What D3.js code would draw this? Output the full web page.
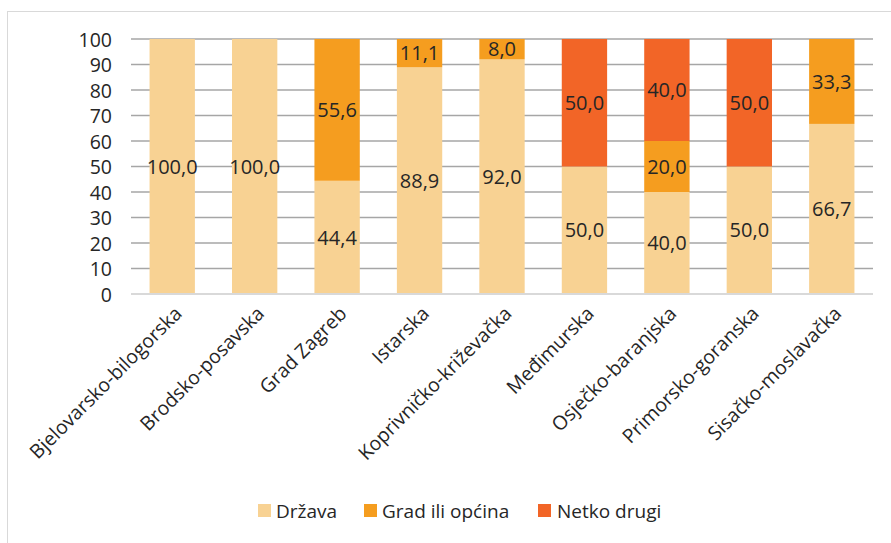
<!DOCTYPE html>
<html>
<head>
<meta charset="utf-8">
<script src="https://cdn.jsdelivr.net/npm/d3@7"></script>
<style>
  html, body { margin: 0; padding: 0; background: #fff; }
  svg text { font-family: "Open Sans", "DejaVu Sans", sans-serif; fill: #262626; }
</style>
</head>
<body>
<svg id="chart" width="891" height="543"></svg>
<script>
const categories = ["Bjelovarsko-bilogorska", "Brodsko-posavska", "Grad Zagreb", "Istarska",
  "Koprivničko-križevačka", "Međimurska", "Osječko-baranjska", "Primorsko-goranska", "Sisačko-moslavačka"];
const seriesNames = ["Država", "Grad ili općina", "Netko drugi"];
const drzava = [100.0, 100.0, 44.4, 88.9, 92.0, 50.0, 40.0, 50.0, 66.7];
const gradIliOpcina = [0, 0, 55.6, 11.1, 8.0, 0, 20.0, 0, 33.3];
const netkoDrugi = [0, 0, 0, 0, 0, 50.0, 40.0, 50.0, 0];
const yTicks = [0, 10, 20, 30, 40, 50, 60, 70, 80, 90, 100];
const colors = ["#F8D293", "#F59D1F", "#F26527"];

const svg = d3.select("#chart");
const fmt = v => v.toFixed(1).replace(".", ",");

// frame
svg.append("rect").attr("x", 7.5).attr("y", 11.5).attr("width", 900).attr("height", 600)
  .attr("fill", "none").attr("stroke", "#d9d9d9").attr("stroke-width", 1);

const pLeft = 131, pRight = 873, pTop = 39, pBottom = 294;
const x = d3.scaleBand().domain(categories).range([pLeft, pRight]).paddingInner(0.45).paddingOuter(0.225);
const y = d3.scaleLinear().domain([0, 100]).range([pBottom, pTop]);

// gridlines
svg.append("g").selectAll("line").data(yTicks.filter(t => t > 0)).join("line")
  .attr("x1", pLeft).attr("x2", pRight)
  .attr("y1", d => y(d)).attr("y2", d => y(d))
  .attr("stroke", "#a6a6a6").attr("stroke-width", 1.4);

// y axis labels
const yAxis = d3.axisLeft(y).tickValues(yTicks).tickSize(0).tickPadding(0).tickFormat(d3.format("d"));
const yg = svg.append("g").attr("transform", `translate(${pLeft - 19},0)`).call(yAxis);
yg.select(".domain").remove();
yg.selectAll("text").style("font-size", "19.5px").style("font-family", "'Open Sans', sans-serif").attr("fill", "#262626").attr("dy", "0.36em");

// stack
const rows = categories.map((c, i) => ({cat: c, s0: drzava[i], s1: gradIliOpcina[i], s2: netkoDrugi[i]}));
const stack = d3.stack().keys(["s0", "s1", "s2"])(rows);

stack.forEach((layer, li) => {
  svg.append("g").selectAll("rect").data(layer).join("rect")
    .attr("x", d => x(d.data.cat))
    .attr("width", x.bandwidth())
    .attr("y", d => y(d[1]))
    .attr("height", d => y(d[0]) - y(d[1]))
    .attr("fill", colors[li]);
});

// baseline
svg.append("line").attr("x1", pLeft).attr("x2", pRight).attr("y1", y(0)).attr("y2", y(0))
  .attr("stroke", "#d9d9d9").attr("stroke-width", 2);

// value labels
stack.forEach((layer, li) => {
  svg.append("g").selectAll("text").data(layer.filter(d => d[1] - d[0] > 0)).join("text")
    .attr("x", d => x(d.data.cat) + x.bandwidth() / 2)
    .attr("y", d => y((d[0] + d[1]) / 2))
    .attr("dy", "0.36em")
    .attr("text-anchor", "middle")
    .style("font-size", "20px")
    .text(d => fmt(d[1] - d[0]));
});

// x axis labels
const xg = svg.append("g");
xg.selectAll("text").data(categories).join("text")
  .attr("transform", d => `translate(${x(d) + x.bandwidth() / 2 + 6},${pBottom + 16}) rotate(-45)`)
  .attr("text-anchor", "end")
  .attr("dy", "0.35em")
  .style("font-size", "19.5px")
  .text(d => d);

// legend
const legendItems = [
  {name: seriesNames[0], color: colors[0], sx: 258, tx: 276},
  {name: seriesNames[1], color: colors[1], sx: 364, tx: 382},
  {name: seriesNames[2], color: colors[2], sx: 538, tx: 557}
];
const lg = svg.append("g");
legendItems.forEach(it => {
  lg.append("rect").attr("x", it.sx).attr("y", 504).attr("width", 13).attr("height", 13).attr("fill", it.color);
  lg.append("text").attr("x", it.tx).attr("y", 511).attr("dy", "0.36em").style("font-size", "19px").text(it.name);
});
</script>
</body>
</html>
